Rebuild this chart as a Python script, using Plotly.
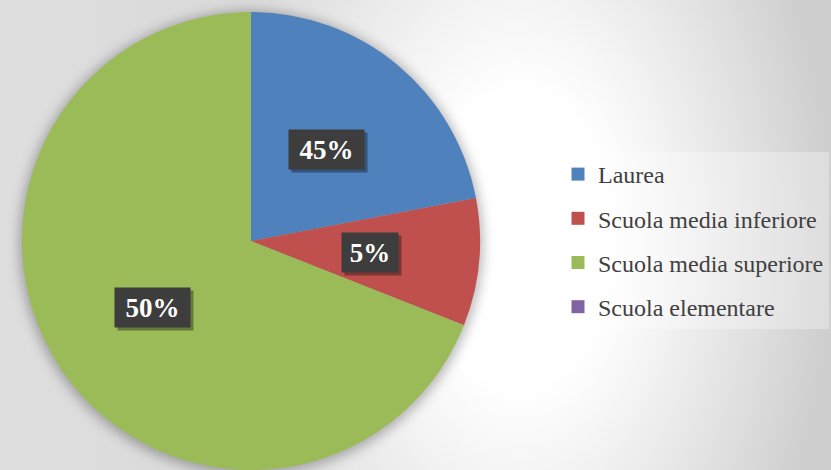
import base64
import math
import plotly.graph_objects as go

# ---- data ----
categories = ["Laurea", "Scuola media inferiore", "Scuola media superiore", "Scuola elementare"]
values = [22, 9, 69, 0]
label_texts = ["45%", "5%", "50%", ""]
colors = ["#4F81BD", "#C0504D", "#9BBB59", "#8064A2"]

W, H = 831, 470
CX, CY, R = 251, 241, 229  # pie placement in pixels (layout)

# ---- background (radial glow + pie shadow) ----
svg = f'''<svg xmlns="http://www.w3.org/2000/svg" width="{W}" height="{H}" viewBox="0 0 {W} {H}">
<defs>
<linearGradient id="base" x1="0" y1="0" x2="1" y2="0">
<stop offset="0" stop-color="#dedede"/><stop offset="1" stop-color="#cfcfcf"/>
</linearGradient>
<radialGradient id="glow" gradientUnits="userSpaceOnUse" cx="520" cy="240" r="310"
 gradientTransform="translate(520 240) scale(1 1.6) translate(-520 -240)">
<stop offset="0" stop-color="#ffffff" stop-opacity="1"/>
<stop offset="0.3" stop-color="#ffffff" stop-opacity="1"/>
<stop offset="1" stop-color="#ffffff" stop-opacity="0"/>
</radialGradient>
<filter id="blur" x="-20%" y="-20%" width="140%" height="140%"><feGaussianBlur stdDeviation="6"/></filter>
</defs>
<rect width="{W}" height="{H}" fill="url(#base)"/>
<rect width="{W}" height="{H}" fill="url(#glow)"/>
<circle cx="{CX}" cy="{CY + 2}" r="{R + 3}" fill="#000000" fill-opacity="0.28" filter="url(#blur)"/>
</svg>'''
bg_src = "data:image/svg+xml;base64," + base64.b64encode(svg.encode()).decode()

dom_x = [(CX - R) / W, (CX + R) / W]
dom_y = [1 - (CY + R) / H, 1 - (CY - R) / H]

fig = go.Figure()
fig.add_trace(go.Pie(
    labels=categories, values=values, sort=False, direction="clockwise", rotation=0,
    marker=dict(colors=colors, line=dict(width=0)),
    textinfo="none", hoverinfo="label+percent", showlegend=False,
    domain=dict(x=dom_x, y=dom_y),
))

# legend entries
for cat, col in zip(categories, colors):
    fig.add_trace(go.Scatter(
        x=[None], y=[None], mode="markers", name=cat, legendgroup=cat,
        marker=dict(symbol="square", size=13, color=col, line=dict(width=0)),
    ))

# data labels positioned from slice mid-angles
total = sum(values)
cum = 0
annotations = []
for v, t in zip(values, label_texts):
    start = cum
    cum += v
    if not t:
        continue
    mid = (start + v / 2) / total * 2 * math.pi
    r = 0.52 * R
    px = CX + r * math.sin(mid)
    py = CY - r * math.cos(mid)
    xp, yp = px / W, 1 - py / H
    bw = 19 * len(t) + 10
    common = dict(xref="paper", yref="paper", showarrow=False, xanchor="center",
                  yanchor="middle", borderpad=4, width=bw, height=31)
    annotations.append(dict(
        x=xp, y=yp, text="&nbsp;", bgcolor="rgba(0,0,0,0.35)",
        xshift=3, yshift=-3, font=dict(size=10), **common,
    ))
    annotations.append(dict(
        x=xp, y=yp, text="<b>" + t + "</b>", bgcolor="#3d3d3d",
        font=dict(family="Liberation Serif", size=27, color="#ffffff"), **common,
    ))

fig.update_layout(
    width=W, height=H, margin=dict(l=0, r=0, t=0, b=0),
    paper_bgcolor="#ffffff", plot_bgcolor="rgba(0,0,0,0)",
    xaxis=dict(visible=False), yaxis=dict(visible=False),
    images=[dict(source=bg_src, xref="paper", yref="paper", x=0, y=1, sizex=1, sizey=1,
                 sizing="stretch", xanchor="left", yanchor="top", layer="below")],
    legend=dict(
        x=558 / W, y=1 - 152 / H, xanchor="left", yanchor="top",
        font=dict(family="Liberation Serif", size=24, color="#404040"),
        bgcolor="rgba(255,255,255,0.3)", tracegroupgap=10,
        itemclick=False, itemdoubleclick=False,
    ),
    annotations=annotations,
)

fig.write_html("out.html", config={"displayModeBar": False},
               post_script="document.body.style.margin='0';")
